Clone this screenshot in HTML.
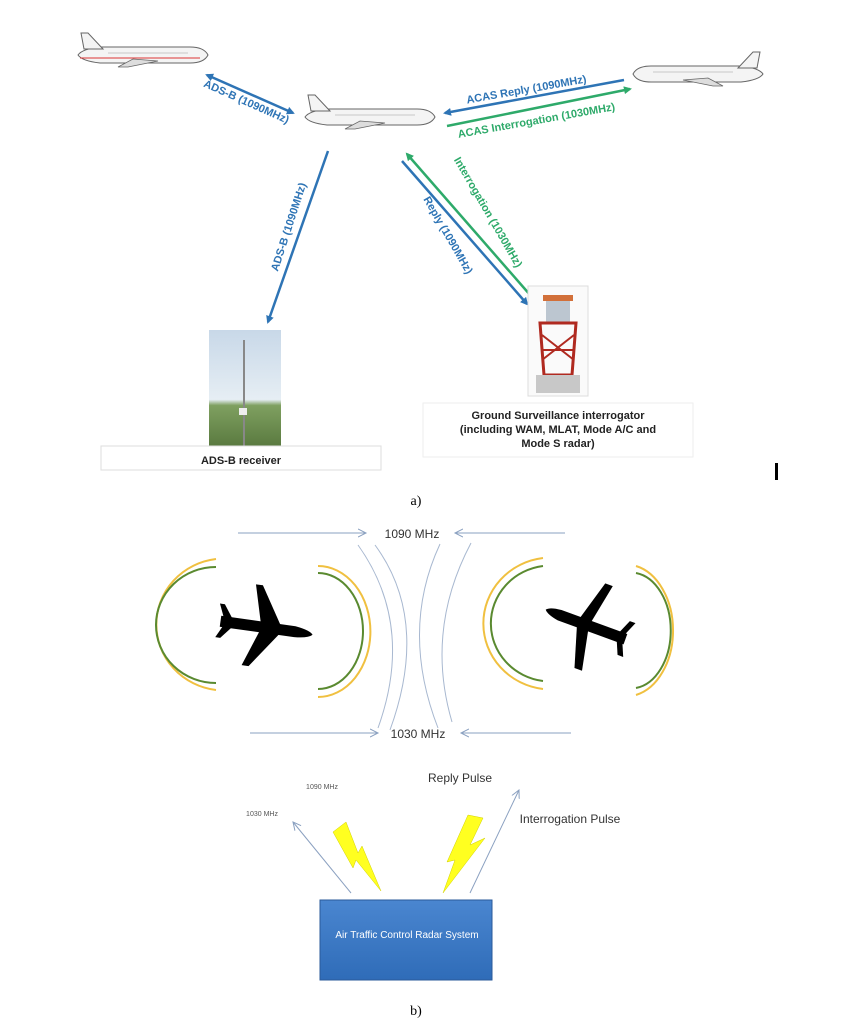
<!DOCTYPE html>
<html><head><meta charset="utf-8"><style>
html,body{margin:0;padding:0;background:#fff;}
svg{display:block;}
text{font-family:"Liberation Sans",sans-serif;}
</style></head><body>
<svg width="862" height="1024" viewBox="0 0 862 1024" xmlns="http://www.w3.org/2000/svg">
<defs>
<marker id="ab" markerWidth="8" markerHeight="8" refX="6" refY="4" orient="auto" markerUnits="userSpaceOnUse"><path d="M0,0 L8,4 L0,8 Z" fill="#2e74b5"/></marker>
<marker id="abs" markerWidth="8" markerHeight="8" refX="2" refY="4" orient="auto" markerUnits="userSpaceOnUse"><path d="M8,0 L0,4 L8,8 Z" fill="#2e74b5"/></marker>
<marker id="ag" markerWidth="8" markerHeight="8" refX="6" refY="4" orient="auto" markerUnits="userSpaceOnUse"><path d="M0,0 L8,4 L0,8 Z" fill="#2eaa6a"/></marker>
<marker id="al" markerWidth="10" markerHeight="10" refX="8" refY="5" orient="auto" markerUnits="userSpaceOnUse"><path d="M0,1 L8,5 L0,9" fill="none" stroke="#8aa0c0" stroke-width="1"/></marker>
<linearGradient id="bx" x1="0" y1="0" x2="0" y2="1"><stop offset="0" stop-color="#4a86d0"/><stop offset="1" stop-color="#2f6cb8"/></linearGradient>
<linearGradient id="sky" x1="0" y1="0" x2="0" y2="1"><stop offset="0" stop-color="#c8d8e8"/><stop offset="0.6" stop-color="#e6eef4"/><stop offset="0.65" stop-color="#7fa060"/><stop offset="1" stop-color="#5a7a40"/></linearGradient>
<g id="plane">
<path d="M0,22 Q4,14 18,14 L108,14 Q126,16 130,22 Q126,28 108,30 L18,30 Q4,30 0,22 Z" fill="#f4f4f4" stroke="#666" stroke-width="1"/>
<path d="M105,16 L120,0 L127,0 L124,16 Z" fill="#f4f4f4" stroke="#666" stroke-width="1"/>
<path d="M50,28 L80,34 L90,34 L75,26 Z" fill="#ddd" stroke="#666" stroke-width="0.8"/>
<line x1="20" y1="20" x2="100" y2="20" stroke="#999" stroke-width="0.6"/>
</g>
</defs>

<g transform="translate(208,33) scale(-1,1)"><use href="#plane"/></g>
<line x1="80" y1="58" x2="200" y2="58" stroke="#d33" stroke-width="1"/>
<g transform="translate(435,95) scale(-1,1)"><use href="#plane"/></g>
<g transform="translate(633,52)"><use href="#plane"/></g>

<line x1="207" y1="75" x2="293" y2="113" stroke="#2e74b5" stroke-width="2.5" marker-end="url(#ab)" marker-start="url(#abs)"/>
<text x="245" y="105" font-size="11" font-weight="bold" fill="#2e74b5" text-anchor="middle" transform="rotate(24 245 105)">ADS-B (1090MHz)</text>
<line x1="624" y1="80" x2="445" y2="113" stroke="#2e74b5" stroke-width="2.5" marker-end="url(#ab)"/>
<line x1="447" y1="126" x2="630" y2="89" stroke="#2eaa6a" stroke-width="2.5" marker-end="url(#ag)"/>
<text x="527" y="93" font-size="11" font-weight="bold" fill="#2e74b5" text-anchor="middle" transform="rotate(-10 527 93)">ACAS Reply (1090MHz)</text>
<text x="537" y="124" font-size="11" font-weight="bold" fill="#2eaa6a" text-anchor="middle" transform="rotate(-10 537 124)">ACAS Interrogation (1030MHz)</text>
<line x1="328" y1="151" x2="268" y2="322" stroke="#2e74b5" stroke-width="2.5" marker-end="url(#ab)"/>
<text x="292" y="228" font-size="11" font-weight="bold" fill="#2e74b5" text-anchor="middle" transform="rotate(-72 292 228)">ADS-B (1090MHz)</text>
<line x1="402" y1="161" x2="527" y2="304" stroke="#2e74b5" stroke-width="2.5" marker-end="url(#ab)"/>
<line x1="531" y1="296" x2="407" y2="154" stroke="#2eaa6a" stroke-width="2.5" marker-end="url(#ag)"/>
<text x="445" y="237" font-size="11" font-weight="bold" fill="#2e74b5" text-anchor="middle" transform="rotate(60 445 237)">Reply (1090MHz)</text>
<text x="485" y="214" font-size="11" font-weight="bold" fill="#2eaa6a" text-anchor="middle" transform="rotate(60 485 214)">Interrogation (1030MHz)</text>

<rect x="209" y="330" width="72" height="116" fill="url(#sky)"/>
<line x1="244" y1="340" x2="244" y2="446" stroke="#888" stroke-width="2"/>
<rect x="239" y="408" width="8" height="7" fill="#eee"/>
<rect x="101" y="446" width="280" height="24" fill="#fff" stroke="#ddd"/>
<text x="241" y="464" font-size="11" font-weight="bold" text-anchor="middle" fill="#222">ADS-B receiver</text>

<rect x="528" y="286" width="60" height="110" fill="#fafafa" stroke="#ddd"/>
<rect x="543" y="295" width="30" height="6" fill="#d2703a"/>
<rect x="546" y="301" width="24" height="22" fill="#bcc6d0"/>
<path d="M540,323 L576,323 L572,375 L544,375 Z" fill="none" stroke="#b02a20" stroke-width="3"/>
<path d="M542,335 L574,360 M574,335 L542,360 M543,350 L573,350" stroke="#b02a20" stroke-width="2"/>
<rect x="536" y="375" width="44" height="18" fill="#c8c8c8"/>
<rect x="423" y="403" width="270" height="54" fill="#fff" stroke="#eee"/>
<text font-size="11" font-weight="bold" text-anchor="middle" fill="#222"><tspan x="558" y="419">Ground Surveillance interrogator</tspan><tspan x="558" y="433">(including WAM, MLAT, Mode A/C and</tspan><tspan x="558" y="447">Mode S radar)</tspan></text>
<rect x="775" y="463" width="3" height="17" fill="#000"/>
<text x="416" y="505" font-size="14" text-anchor="middle" fill="#000" style="font-family:'Liberation Serif',serif">a)</text>

<line x1="238" y1="533" x2="366" y2="533" stroke="#8aa0c0" stroke-width="1" marker-end="url(#al)"/>
<line x1="565" y1="533" x2="455" y2="533" stroke="#8aa0c0" stroke-width="1" marker-end="url(#al)"/>
<text x="412" y="538" font-size="12" text-anchor="middle" fill="#333">1090 MHz</text>
<line x1="250" y1="733" x2="378" y2="733" stroke="#8aa0c0" stroke-width="1" marker-end="url(#al)"/>
<line x1="571" y1="733" x2="461" y2="733" stroke="#8aa0c0" stroke-width="1" marker-end="url(#al)"/>
<text x="418" y="738" font-size="12" text-anchor="middle" fill="#333">1030 MHz</text>

<g fill="none" stroke="#a8b8d0" stroke-width="1">
<path d="M358,545 Q415,625 378,728"/>
<path d="M375,545 Q430,620 390,730"/>
<path d="M440,544 Q400,630 438,728"/>
<path d="M471,543 Q425,630 452,722"/>
</g>

<g fill="none" stroke-width="2">
<path d="M216,559 A68,66 0 0 0 216,690" stroke="#f0c040"/>
<path d="M216,567 A60,58 0 0 0 216,683" stroke="#5a8a30"/>
<path d="M318,573 A45,58 0 0 1 318,689" stroke="#5a8a30"/>
<path d="M318,566 A52,65 0 0 1 318,697" stroke="#f0c040"/>
<path d="M543,558 A68,66 0 0 0 543,689" stroke="#f0c040"/>
<path d="M543,566 A60,58 0 0 0 543,681" stroke="#5a8a30"/>
<path d="M636,573 A40,58 0 0 1 636,688" stroke="#5a8a30"/>
<path d="M636,566 A47,66 0 0 1 636,695" stroke="#f0c040"/>
</g>

<g transform="translate(265,628) rotate(8)" fill="#000">
<path d="M-45,-6 L30,-6 Q45,-4 48,0 Q45,4 30,5 L-45,5 Z"/>
<path d="M-5,-5 L-15,-42 L-8,-42 L15,-5 Z"/>
<path d="M-5,4 L-18,40 L-11,40 L15,4 Z"/>
<path d="M-42,-4 L-48,-18 L-43,-18 L-33,-4 Z"/>
<path d="M-42,4 L-48,16 L-43,16 L-33,4 Z"/>
</g>
<g transform="translate(588,625) rotate(200)" fill="#000">
<path d="M-40,-6 L30,-6 Q42,-4 45,0 Q42,4 30,5 L-40,5 Z"/>
<path d="M-2,-5 L-10,-45 L-2,-45 L10,-5 Z"/>
<path d="M-2,4 L-10,45 L-2,45 L10,4 Z"/>
<path d="M-38,-4 L-44,-18 L-38,-18 L-32,-4 Z"/>
<path d="M-38,4 L-44,18 L-38,18 L-32,4 Z"/>
</g>

<text x="460" y="782" font-size="12" text-anchor="middle" fill="#333">Reply Pulse</text>
<text x="322" y="789" font-size="7" text-anchor="middle" fill="#555">1090 MHz</text>
<text x="262" y="816" font-size="7" text-anchor="middle" fill="#555">1030 MHz</text>
<text x="570" y="823" font-size="12" text-anchor="middle" fill="#333">Interrogation Pulse</text>
<line x1="351" y1="893" x2="293" y2="822" stroke="#8aa0c0" stroke-width="1" marker-end="url(#al)"/>
<line x1="470" y1="893" x2="519" y2="790" stroke="#8aa0c0" stroke-width="1" marker-end="url(#al)"/>
<path d="M333,832 L346,822 L358,853 L362,846 L381,891 L356,860 L353,868 Z" fill="#ffff20" stroke="#d0d000" stroke-width="0.5"/>
<path d="M468,815 L483,818 L470,845 L485,838 L443,893 L455,860 L447,862 Z" fill="#ffff20" stroke="#d0d000" stroke-width="0.5"/>
<rect x="320" y="900" width="172" height="80" fill="url(#bx)" stroke="#2a5a9a"/>
<text x="407" y="938" font-size="10" text-anchor="middle" fill="#fff">Air Traffic Control Radar System</text>
<text x="416" y="1015" font-size="14" text-anchor="middle" fill="#000" style="font-family:'Liberation Serif',serif">b)</text>
</svg>
</body></html>
